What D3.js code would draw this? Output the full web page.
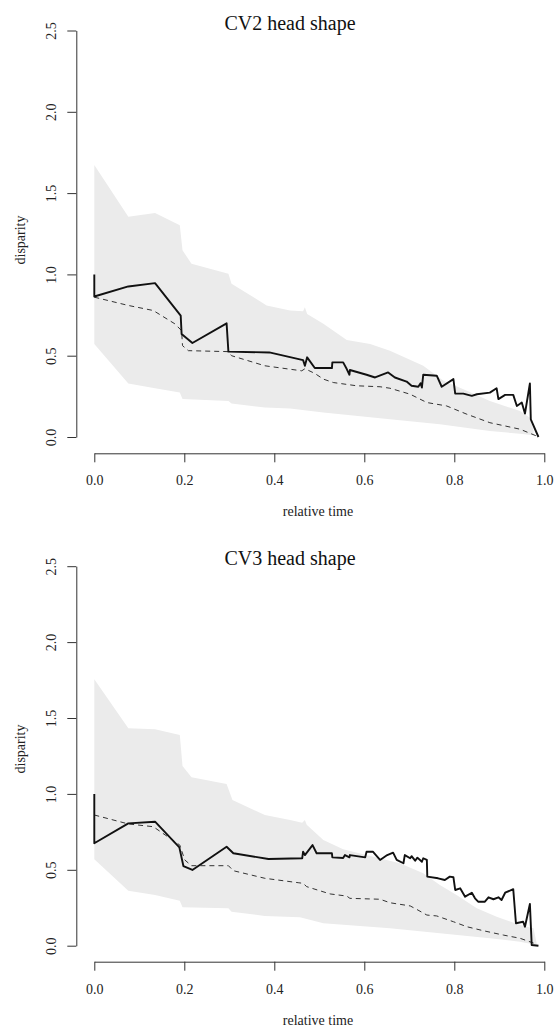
<!DOCTYPE html>
<html>
<head>
<meta charset="utf-8">
<script src="https://cdn.jsdelivr.net/npm/d3@7"></script>
<style>
  body { margin: 0; background: #fff; }
  svg { display: block; font-family: "Liberation Serif", "DejaVu Serif", serif; }
</style>
</head>
<body>
<svg id="chart" width="555" height="1030"></svg>
<script>
// tick labels
const xTicks = [0, 0.2, 0.4, 0.6, 0.8, 1.0];
const yTicks = [0, 0.5, 1.0, 1.5, 2.0, 2.5];

// CV2 head shape: [relative time, disparity]
const cv2Upper = [[0,1.673],[0.0756,1.354],[0.135,1.378],[0.19,1.302],[0.196,1.148],[0.216,1.066],[0.298,1.004],[0.305,0.943],[0.383,0.809],[0.435,0.778],[0.464,0.773],[0.468,0.798],[0.473,0.757],[0.509,0.696],[0.561,0.597],[0.613,0.572],[0.657,0.531],[0.731,0.438],[0.776,0.346],[0.828,0.284],[0.879,0.222],[0.946,0.16],[0.968,0.119],[0.976,0.04]];
const cv2Lower = [[0,0.572],[0.0756,0.329],[0.135,0.30],[0.19,0.274],[0.196,0.233],[0.298,0.222],[0.305,0.206],[0.379,0.181],[0.435,0.175],[0.509,0.15],[0.657,0.109],[0.768,0.078],[0.879,0.037],[0.946,0.02],[0.976,0.01]];
const cv2Observed = [[0,1.0],[0,0.864],[0.0756,0.926],[0.135,0.946],[0.192,0.747],[0.194,0.634],[0.218,0.578],[0.294,0.699],[0.298,0.525],[0.389,0.52],[0.464,0.473],[0.468,0.438],[0.473,0.49],[0.49,0.424],[0.528,0.424],[0.529,0.459],[0.553,0.459],[0.561,0.418],[0.567,0.383],[0.568,0.412],[0.605,0.383],[0.624,0.366],[0.653,0.397],[0.668,0.366],[0.694,0.341],[0.705,0.315],[0.72,0.309],[0.725,0.331],[0.728,0.304],[0.731,0.383],[0.761,0.377],[0.772,0.309],[0.798,0.356],[0.802,0.267],[0.82,0.267],[0.839,0.253],[0.85,0.263],[0.879,0.273],[0.894,0.3],[0.898,0.233],[0.913,0.259],[0.931,0.259],[0.939,0.191],[0.95,0.212],[0.957,0.144],[0.968,0.329],[0.97,0.109],[0.987,0.0]];
const cv2Expected = [[0,0.86],[0.0756,0.809],[0.131,0.778],[0.179,0.696],[0.194,0.654],[0.196,0.562],[0.209,0.531],[0.298,0.525],[0.305,0.5],[0.379,0.438],[0.461,0.407],[0.468,0.42],[0.49,0.391],[0.509,0.356],[0.531,0.335],[0.583,0.315],[0.635,0.309],[0.657,0.30],[0.702,0.263],[0.739,0.212],[0.783,0.191],[0.828,0.14],[0.879,0.088],[0.946,0.048],[0.983,0.006]];

// CV3 head shape
const cv3Upper = [[0,1.755],[0.0756,1.432],[0.135,1.426],[0.19,1.388],[0.196,1.184],[0.216,1.109],[0.294,1.065],[0.307,0.96],[0.379,0.861],[0.435,0.828],[0.462,0.81],[0.468,0.828],[0.472,0.797],[0.509,0.696],[0.553,0.635],[0.62,0.586],[0.679,0.543],[0.731,0.477],[0.768,0.40],[0.805,0.334],[0.85,0.246],[0.894,0.191],[0.946,0.136],[0.976,0.115],[0.983,0.016]];
const cv3Lower = [[0,0.569],[0.0756,0.362],[0.135,0.334],[0.19,0.296],[0.196,0.253],[0.298,0.246],[0.305,0.224],[0.379,0.196],[0.457,0.187],[0.509,0.148],[0.657,0.115],[0.768,0.082],[0.879,0.049],[0.946,0.026],[0.983,0.005]];
const cv3Observed = [[0,1.0],[0,0.675],[0.0756,0.806],[0.135,0.817],[0.189,0.648],[0.198,0.525],[0.218,0.499],[0.294,0.652],[0.309,0.609],[0.387,0.571],[0.462,0.576],[0.464,0.619],[0.468,0.597],[0.485,0.663],[0.494,0.609],[0.528,0.609],[0.529,0.582],[0.553,0.578],[0.557,0.597],[0.567,0.582],[0.568,0.597],[0.602,0.582],[0.605,0.619],[0.619,0.619],[0.635,0.565],[0.651,0.597],[0.664,0.613],[0.672,0.565],[0.687,0.543],[0.69,0.597],[0.702,0.576],[0.705,0.59],[0.713,0.56],[0.718,0.58],[0.728,0.553],[0.731,0.576],[0.739,0.565],[0.74,0.455],[0.764,0.444],[0.779,0.433],[0.79,0.455],[0.798,0.451],[0.802,0.367],[0.813,0.378],[0.824,0.323],[0.839,0.349],[0.846,0.312],[0.853,0.29],[0.868,0.29],[0.876,0.319],[0.887,0.306],[0.898,0.319],[0.905,0.301],[0.913,0.349],[0.931,0.372],[0.937,0.148],[0.953,0.158],[0.957,0.125],[0.968,0.275],[0.972,0.005],[0.987,0.0]];
const cv3Expected = [[0,0.861],[0.0756,0.802],[0.131,0.784],[0.19,0.663],[0.201,0.565],[0.216,0.527],[0.298,0.527],[0.309,0.494],[0.379,0.444],[0.453,0.415],[0.464,0.411],[0.472,0.389],[0.524,0.341],[0.561,0.327],[0.568,0.312],[0.635,0.306],[0.657,0.283],[0.702,0.262],[0.716,0.24],[0.739,0.202],[0.761,0.196],[0.798,0.158],[0.828,0.125],[0.864,0.099],[0.909,0.07],[0.946,0.049],[0.983,0.01]];

const svg = d3.select('#chart');

function drawPanel(p) {
	let x = d3.scaleLinear().domain([0, 1]).range([p.x0, p.x1]);
	let y = d3.scaleLinear().domain([0, 2.5]).range([p.y0, p.y1]);
	let g = svg.append('g');

	let line = d3.line()
		.x((d) => { return x(d[0]); })
		.y((d) => { return y(d[1]); });

	// envelope: upper edge forward, lower edge back
	let band = p.upper.concat(p.lower.slice().reverse());
	g.append('path')
		.attr('d', line(band) + 'Z')
		.attr('fill', '#ebebeb')
		.attr('stroke', 'none');

	g.append('path')
		.attr('d', line(p.expected))
		.attr('fill', 'none')
		.attr('stroke', '#333')
		.attr('stroke-width', 1)
		.attr('stroke-dasharray', '5,4');

	g.append('path')
		.attr('d', line(p.observed))
		.attr('fill', 'none')
		.attr('stroke', '#111')
		.attr('stroke-width', 1.9)
		.attr('stroke-linejoin', 'round');

	// axes sit 4% outside the data range, like base R
	let xAxis = g.append('g')
		.attr('transform', 'translate(0,' + p.axisY + ')')
		.call(d3.axisBottom(x).tickValues(xTicks).tickFormat(d3.format('.1f')).tickSize(9).tickSizeOuter(0));
	xAxis.selectAll('text')
		.attr('y', 27)
		.attr('dy', '0.35em');

	let yAxis = g.append('g')
		.attr('transform', 'translate(' + p.axisX + ',0)')
		.call(d3.axisLeft(y).tickValues(yTicks).tickFormat(d3.format('.1f')).tickSize(9).tickSizeOuter(0));
	yAxis.selectAll('text')
		.attr('transform', 'rotate(-90)')
		.attr('x', 0)
		.attr('y', -25)
		.attr('dy', '0.35em')
		.attr('text-anchor', 'middle');

	g.selectAll('.domain, .tick line').attr('stroke', '#333');
	g.selectAll('.tick text')
		.attr('fill', '#222')
		.attr('font-family', '"Liberation Serif", serif')
		.attr('font-size', 14);

	g.append('text')
		.attr('x', p.titleX)
		.attr('y', p.titleY)
		.attr('dy', '0.35em')
		.attr('text-anchor', 'middle')
		.style('font-size', '20px')
		.attr('fill', '#111')
		.text(p.title);

	g.append('text')
		.attr('x', 318)
		.attr('y', p.axisY + 58)
		.attr('dy', '0.35em')
		.attr('text-anchor', 'middle')
		.style('font-size', '14px')
		.attr('fill', '#222')
		.text('relative time');

	g.append('text')
		.attr('transform', 'translate(20,' + p.ylabY + ') rotate(-90)')
		.attr('dy', '0.35em')
		.attr('text-anchor', 'middle')
		.style('font-size', '14px')
		.attr('fill', '#222')
		.text('disparity');
}

drawPanel({
	title: 'CV2 head shape', upper: cv2Upper, lower: cv2Lower, observed: cv2Observed, expected: cv2Expected,
	x0: 94.3, x1: 544.3, y0: 437, y1: 30.5, axisX: 76.3, axisY: 453.3,
	titleX: 290, titleY: 23, ylabY: 240
});

drawPanel({
	title: 'CV3 head shape', upper: cv3Upper, lower: cv3Lower, observed: cv3Observed, expected: cv3Expected,
	x0: 94.3, x1: 544.3, y0: 945.7, y1: 566.2, axisX: 76.3, axisY: 961.7,
	titleX: 290, titleY: 558, ylabY: 749
});
</script>
</body>
</html>
